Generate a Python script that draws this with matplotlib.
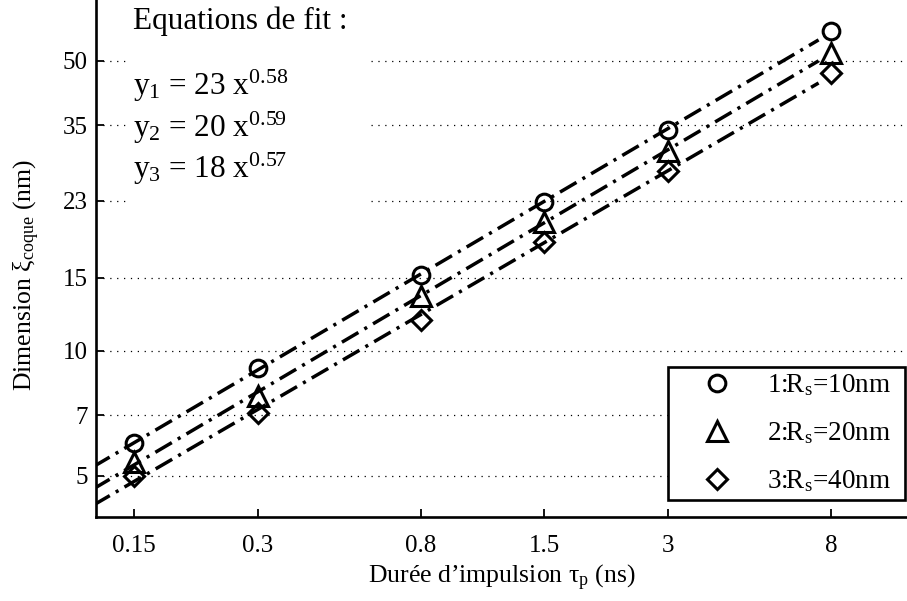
import numpy as np
import matplotlib
matplotlib.use("Agg")
import matplotlib.pyplot as plt
from matplotlib.patches import Rectangle
from matplotlib.ticker import FixedLocator, FixedFormatter, NullLocator

plt.rcParams['font.family'] = ['Liberation Serif', 'DejaVu Serif']
plt.rcParams['mathtext.fontset'] = 'custom'
plt.rcParams['mathtext.rm'] = 'Liberation Serif'
plt.rcParams['mathtext.it'] = 'Liberation Serif:italic'
plt.rcParams['mathtext.bf'] = 'Liberation Serif:bold'

# ---- data ----
pulse_ns = [0.15, 0.3, 0.75, 1.5, 3.0, 7.5]
xtick_pos = [0.15, 0.3, 0.75, 1.5, 3.0, 7.5]
xtick_labels = ['0.15', '0.3', '0.8', '1.5', '3', '8']
ytick_pos = [5, 7, 10, 15, 23, 35, 50]
ytick_labels = ['5', '7', '10', '15', '23', '35', '50']

shell_rs10 = [6.0, 9.1, 15.2, 22.9, 34.1, 58.9]
shell_rs20 = [5.4, 7.8, 13.6, 20.5, 30.4, 52.2]
shell_rs40 = [5.0, 7.1, 11.9, 18.3, 27.1, 46.7]

series_labels = [r'1:R$_{\mathrm{s}}$=10nm', r'2:R$_{\mathrm{s}}$=20nm', r'3:R$_{\mathrm{s}}$=40nm']
series_markers = ['o', '^', 'D']
series_msize = [12, 14, 10.5]
fit_range = [0.1, 7.0]

eq_lines = [r'y$_{1}$ = 23 x$^{0.58}$', r'y$_{2}$ = 20 x$^{0.59}$', r'y$_{3}$ = 18 x$^{0.57}$']

# ---- figure ----
W, H = 907, 601
fig = plt.figure(figsize=(W / 100, H / 100), dpi=100)
ax_l, ax_b = 96, 517
ax = fig.add_axes([ax_l / W, (H - ax_b) / H, (W - ax_l) / W, ax_b / H])
ax.set_xscale('log')
ax.set_yscale('log')
ax.set_xlim(0.121, 11.5)
ax.set_ylim(3.98, 70.1)

lw = 2.5
handles = []
for ys, mk, ms, lab in zip([shell_rs10, shell_rs20, shell_rs40], series_markers, series_msize, series_labels):
    lx = np.log(pulse_ns)
    ly = np.log(ys)
    b, a = np.polyfit(lx, ly, 1)
    fx = np.array(fit_range)
    fy = np.exp(a + b * np.log(fx))
    ax.plot(fx, fy, color='k', lw=lw, linestyle=(0, (5.5, 2.0, 0.9, 2.0)), zorder=2,
            dash_capstyle='butt', solid_capstyle='butt')
    h, = ax.plot(pulse_ns, ys, linestyle='none', marker=mk, markersize=ms,
                 markerfacecolor='none', markeredgecolor='k', markeredgewidth=2.2,
                 zorder=3, label=lab)
    handles.append(h)

# axes styling
for s in ['top', 'right']:
    ax.spines[s].set_visible(False)
for s in ['left', 'bottom']:
    ax.spines[s].set_linewidth(1.9)

ax.xaxis.set_major_locator(FixedLocator(xtick_pos))
ax.xaxis.set_major_formatter(FixedFormatter(xtick_labels))
ax.xaxis.set_minor_locator(NullLocator())
ax.yaxis.set_major_locator(FixedLocator(ytick_pos))
ax.yaxis.set_major_formatter(FixedFormatter(ytick_labels))
ax.yaxis.set_minor_locator(NullLocator())
ax.tick_params(axis='both', which='major', direction='in', length=6, width=1.3, labelsize=18)
ax.tick_params(axis='x', pad=13)
ax.tick_params(axis='y', pad=6)

ax.yaxis.grid(True, linestyle=(0, (1, 4.5)), color='k', lw=0.9)
ax.xaxis.grid(False)

# white box behind the equations text
x0 = (127 - ax_l) / (W - ax_l)
x1 = (370 - ax_l) / (W - ax_l)
y0 = (ax_b - 215) / ax_b
ax.add_patch(Rectangle((x0, y0), x1 - x0, 1.0 - y0, transform=ax.transAxes,
                       facecolor='white', edgecolor='none', zorder=1.8))

def fx_(px):
    return (px - ax_l) / (W - ax_l)

def fy_(py):
    return (ax_b - py) / ax_b

ax.text(fx_(133), fy_(29), 'Equations de fit :', transform=ax.transAxes,
        fontsize=22.5, va='baseline', ha='left', zorder=4)
for i, t in enumerate(eq_lines):
    ax.text(fx_(133), fy_(95 + 41.5 * i), t, transform=ax.transAxes,
            fontsize=22.5, va='baseline', ha='left', zorder=4)

ax.set_xlabel(r'Durée d’impulsion τ$_{\mathrm{p}}$ (ns)', fontsize=18.5)
ax.set_ylabel(r'Dimension ξ$_{\mathrm{coque}}$ (nm)', fontsize=18.5)
ax.xaxis.set_label_coords(0.5, fy_(563))
ax.yaxis.set_label_coords(fx_(42), fy_(275))

lx0, lx1, ly_top, ly_bot = 668, 905, 365, 500
leg = ax.legend(handles=handles, loc='lower left',
                bbox_to_anchor=(fx_(lx0), fy_(ly_bot), fx_(lx1) - fx_(lx0), fy_(ly_top) - fy_(ly_bot)),
                mode='expand', fontsize=19.5,
                frameon=True, fancybox=False, framealpha=1, edgecolor='k',
                handlelength=3.2, handletextpad=0.25, labelspacing=0.82,
                borderpad=0.2, borderaxespad=0.0, numpoints=1)
leg.get_frame().set_linewidth(1.9)

fig.savefig('out.png', dpi=100)
